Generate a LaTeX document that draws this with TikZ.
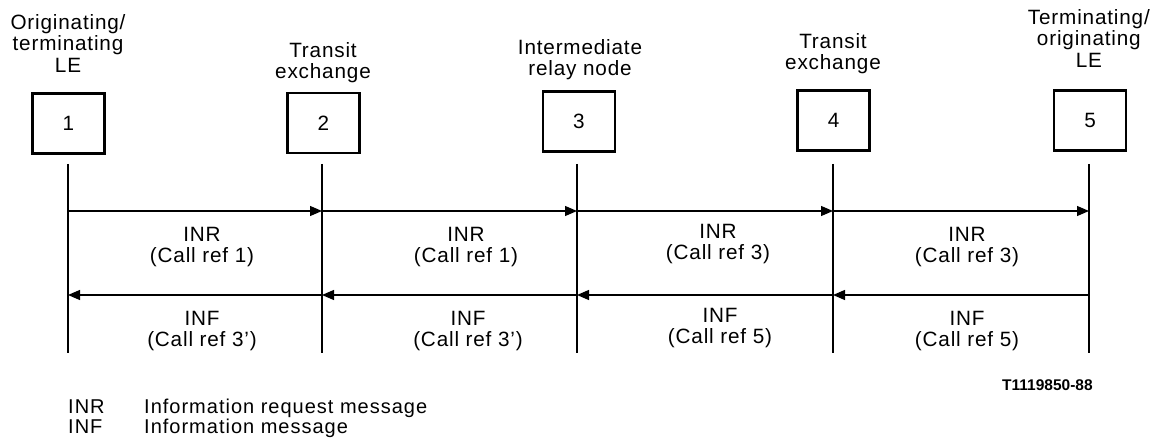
\documentclass[tikz,border=0pt]{standalone}
\usepackage{fontspec}
\setmainfont{Liberation Sans}
\usetikzlibrary{arrows.meta}
\begin{document}
\begin{tikzpicture}[x=1pt,y=-1pt,
  every node/.style={inner sep=0pt, font=\fontsize{20.7}{21.8}\selectfont\addfontfeature{LetterSpace=4}},
  ent/.style={draw, line width=2.2pt, minimum width=72pt, minimum height=60pt},
  hdr/.style={anchor=north, align=center},
  life/.style={line width=1.3pt},
  msg/.style={line width=1.3pt, -{Triangle[length=12pt,width=10pt]}},
  lbl/.style={align=center},
  leg/.style={anchor=base west, font=\fontsize{20}{21}\selectfont\addfontfeature{LetterSpace=5}},
]
\useasboundingbox (0,0) rectangle (1152,441);

% entities
\node[ent] (n1) at (68.5,123.5) {1};
\node[ent] (n2) at (323.5,123) {2};
\node[ent] (n3) at (579,121.5) {3};
\node[ent] (n4) at (833.5,120.5) {4};
\node[ent] (n5) at (1090,120.5) {5};

% headers
\node[hdr] (h1) at (68,14) {Originating/\\terminating\\LE};
\node[hdr] (h2) at (323,42) {Transit\\exchange};
\node[hdr] (h3) at (580,39) {Intermediate\\relay node};
\node[hdr] (h4) at (833,33) {Transit\\exchange};
\node[hdr, anchor=north east] (h5) at (1150,9) {Terminating/\\originating\\LE};

% lifelines
\foreach \i/\x in {1/68,2/322,3/577,4/833,5/1089}{
  \coordinate (t\i) at (\x,164);
  \coordinate (b\i) at (\x,353);
  \coordinate (r\i) at (\x,211);
  \coordinate (f\i) at (\x,295);
  \draw[life] (t\i) -- (b\i);
}

% INR messages
\draw[msg] (r1) -- (r2);
\draw[msg] (r2) -- (r3);
\draw[msg] (r3) -- (r4);
\draw[msg] (r4) -- (r5);
% INF messages
\draw[msg] (f2) -- (f1);
\draw[msg] (f3) -- (f2);
\draw[msg] (f4) -- (f3);
\draw[msg] (f5) -- (f4);

% message labels
\node[lbl] (m1) at (202,247) {INR\\(Call ref 1)};
\node[lbl] (m2) at (466,247) {INR\\(Call ref 1)};
\node[lbl] (m3) at (718,244) {INR\\(Call ref 3)};
\node[lbl] (m4) at (967,247) {INR\\(Call ref 3)};
\node[lbl] (k1) at (202,331) {INF\\(Call ref 3')};
\node[lbl] (k2) at (468,331) {INF\\(Call ref 3')};
\node[lbl] (k3) at (720,328) {INF\\(Call ref 5)};
\node[lbl] (k4) at (967,331) {INF\\(Call ref 5)};

% figure number
\node[anchor=base west, font=\fontsize{15.5}{17}\selectfont\bfseries] (fig) at (1002,390.5) {T1119850-88};

% legend
\node[leg] (a1) at (68,413.5) {INR};
\node[leg] (d1) at (144,413.5) {Information request message};
\node[leg] (a2) at (68,433) {INF};
\node[leg] (d2) at (144,433) {Information message};
\end{tikzpicture}
\end{document}
